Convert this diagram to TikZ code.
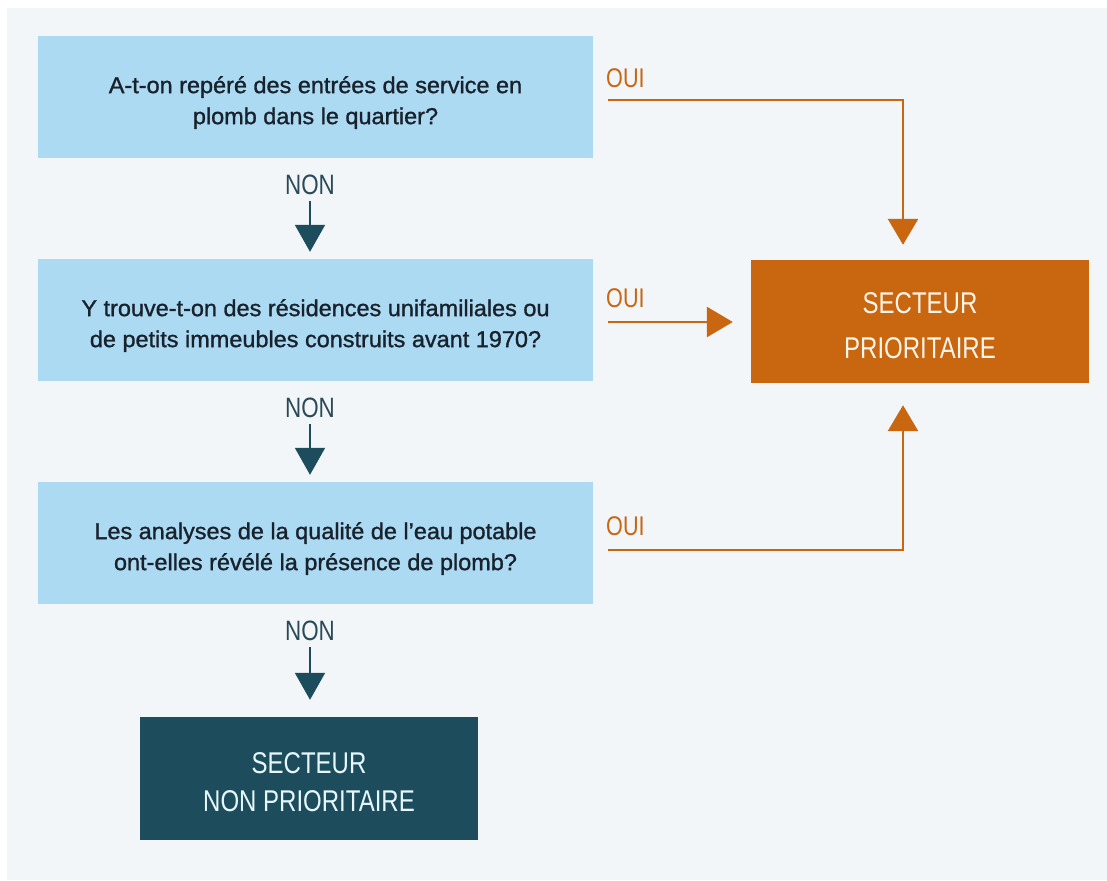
\documentclass[tikz,border=0pt]{standalone}
\usepackage{fontspec}
\setmainfont[FakeStretch=0.8]{Liberation Sans}
\newfontfamily\qfont[FakeStretch=1.02,FakeBold=1.2]{Liberation Sans}
\usetikzlibrary{arrows.meta}
\definecolor{panel}{HTML}{F2F6F9}
\definecolor{qblue}{HTML}{ADDAF3}
\definecolor{orng}{HTML}{C8670F}
\definecolor{teal}{HTML}{1D4D5C}
\definecolor{nontxt}{HTML}{2B4A57}
\definecolor{qtxt}{HTML}{18222C}
\newcommand{\topstrut}[1]{\rule{0pt}{#1}}
\tikzset{
  qbox/.style={fill=qblue, draw=none, minimum width=555pt, minimum height=122pt, inner sep=0pt,
    align=center, text=qtxt, font=\qfont\fontsize{23}{31}\selectfont},
  prio/.style={fill=orng, draw=none, minimum width=338pt, minimum height=123pt, inner sep=0pt,
    align=center, text=white!92!orange, font=\fontsize{30}{45}\selectfont},
  nonprio/.style={fill=teal, draw=none, minimum width=338pt, minimum height=123pt, inner sep=0pt,
    align=center, text=white!90!cyan, font=\fontsize{30}{38}\selectfont},
  nonlbl/.style={text=nontxt, font=\fontsize{28}{30}\selectfont, inner sep=0pt},
  ouilbl/.style={text=orng, font=\fontsize{27}{30}\selectfont, inner sep=0pt, anchor=west},
  nonarrow/.style={draw=teal, line width=2pt, -{Triangle[width=30pt,length=27pt]}},
  ouiarrow/.style={draw=orng, line width=2.8pt, -{Triangle[width=30pt,length=26pt]}},
}
\begin{document}
\begin{tikzpicture}[x=1pt,y=-1pt]
\useasboundingbox (0,0) rectangle (1107,880);
\fill[white] (0,0) rectangle (1107,880);
\fill[panel] (7,8) rectangle (1107,880);

\node[qbox] (q1) at (315.5,97) {\topstrut{28pt}A-t-on repéré des entrées de service en\\plomb dans le quartier?};
\node[qbox] (q2) at (315.5,320) {\topstrut{28pt}Y trouve-t-on des résidences unifamiliales ou\\de petits immeubles construits avant 1970?};
\node[qbox] (q3) at (315.5,543) {\topstrut{28pt}Les analyses de la qualité de l’eau potable\\ont-elles révélé la présence de plomb?};
\node[prio] (p) at (920,321.5) {\topstrut{30pt}SECTEUR\\PRIORITAIRE};
\node[nonprio] (np) at (309,778.5) {\topstrut{29pt}SECTEUR\\NON PRIORITAIRE};

\node[nonlbl] (n1) at (310,185) {NON};
\node[nonlbl] (n2) at (310,408) {NON};
\node[nonlbl] (n3) at (310,631) {NON};

\node[ouilbl] (o1) at (606,78) {OUI};
\node[ouilbl] (o2) at (606,298) {OUI};
\node[ouilbl] (o3) at (606,526) {OUI};

\coordinate (s1) at (608,100);
\coordinate (s2) at (608,322);
\coordinate (s3) at (608,550);
\coordinate (c1) at (903,100);
\coordinate (c3) at (903,550);

\draw[nonarrow] ([yshift=-6pt]n1.south) -- ([yshift=7pt]q2.north -| n1.south);
\draw[nonarrow] ([yshift=-6pt]n2.south) -- ([yshift=7pt]q3.north -| n2.south);
\draw[nonarrow] ([yshift=-6pt]n3.south) -- ([yshift=17pt]np.north -| n3.south);

\draw[ouiarrow] (s1) -- (c1) -- ([yshift=15pt]c1 |- p.north);
\draw[ouiarrow] (s2) -- ([xshift=-18pt]p.west |- s2);
\draw[ouiarrow] (s3) -- (c3) -- ([yshift=-22pt]c3 |- p.south);
\end{tikzpicture}
\end{document}
